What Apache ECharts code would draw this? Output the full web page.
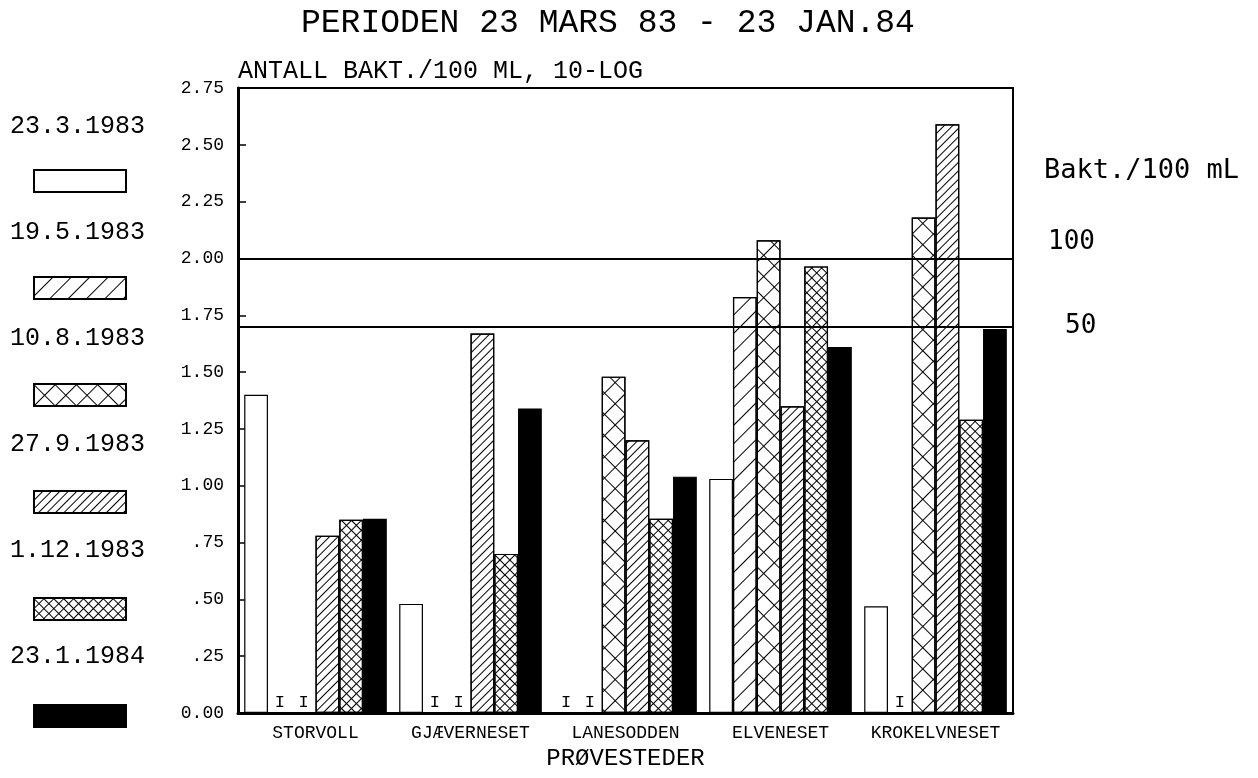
<!DOCTYPE html>
<html>
<head>
<meta charset="utf-8">
<script src="https://cdn.jsdelivr.net/npm/echarts@6/dist/echarts.min.js"></script>
<style>
  html, body { margin: 0; padding: 0; background: #fff; }
  #chart { width: 1258px; height: 778px; }
</style>
</head>
<body>
<div id="chart"></div>
<script>
// prøvesteder
const categories = ['STORVOLL', 'GJÆVERNESET', 'LANESODDEN', 'ELVENESET', 'KROKELVNESET']
// prøvedatoer (legend)
const dates = ['23.3.1983', '19.5.1983', '10.8.1983', '27.9.1983', '1.12.1983', '23.1.1984']
// log10 antall bakt./100 ml, null = ingen verdi (I)
const s19830323 = [1.40, 0.48, null, 1.03, 0.47]
const s19830519 = [null, null, null, 1.83, null]
const s19830810 = [null, null, 1.48, 2.08, 2.18]
const s19830927 = [0.78, 1.67, 1.20, 1.35, 2.59]
const s19831201 = [0.85, 0.70, 0.855, 1.965, 1.29]
const s19840123 = [0.855, 1.34, 1.04, 1.61, 1.69]
// y-akse
const yTickLabels = ['0.00', '.25', '.50', '.75', '1.00', '1.25', '1.50', '1.75', '2.00', '2.25', '2.50', '2.75']
// grenseverdier bakt./100 mL
const refValues = [2.0, 1.699]
const refLabels = ['100\n ', '50']

const plotFont = 'Liberation Mono'
const typeFont = 'DejaVu Sans Mono'

// skravur
const patterns = [
  null,
  { symbol: 'rect', symbolSize: 1, symbolKeepAspect: false, color: '#000', dashArrayX: [1, 0], dashArrayY: [1, 12], rotation: -Math.PI / 4 },
  { symbol: 'rect', symbolSize: 1, symbolKeepAspect: false, color: '#000', dashArrayX: [[1, 0], [1, 14]], dashArrayY: [1, 0, 14, 0], rotation: Math.PI / 4 },
  { symbol: 'rect', symbolSize: 1, symbolKeepAspect: false, color: '#000', dashArrayX: [1, 0], dashArrayY: [1, 5], rotation: -Math.PI / 4 },
  { symbol: 'rect', symbolSize: 1, symbolKeepAspect: false, color: '#000', dashArrayX: [[1, 0], [1, 6]], dashArrayY: [1, 0, 6, 0], rotation: Math.PI / 4 },
  null
]
const fills = ['#fff', '#fff', '#fff', '#fff', '#fff', '#000']
const seriesValues = [s19830323, s19830519, s19830810, s19830927, s19831201, s19840123]

function toItems(values) {
  return values.map(v => {
    if (v === null) {
      return {
        value: 0,
        itemStyle: { borderWidth: 0 },
        label: { show: true, position: 'top', distance: 2, formatter: 'I', fontFamily: plotFont, fontSize: 17, color: '#000' }
      }
    }
    return v
  })
}

const series = dates.map((name, i) => {
  const s = {
    name: name,
    type: 'bar',
    barGap: '0%',
    barCategoryGap: '8%',
    data: toItems(seriesValues[i]),
    itemStyle: {
      color: fills[i],
      borderColor: '#000',
      borderWidth: 1.2
    },
    emphasis: { disabled: true },
    animation: false
  }
  if (patterns[i]) s.itemStyle.decal = patterns[i]
  return s
})

// referanselinjer 100 og 50
series[0].markLine = {
  silent: true,
  symbol: 'none',
  lineStyle: { color: '#000', width: 2, type: 'solid' },
  data: refValues.map((v, i) => ({
    yAxis: v,
    label: {
      show: true,
      position: 'end',
      formatter: refLabels[i],
      distance: i === 0 ? 35 : 52,
      lineHeight: 32,
      fontFamily: typeFont,
      fontSize: 26,
      color: '#000'
    }
  }))
}

const chart = echarts.init(document.getElementById('chart'))
chart.setOption({
  backgroundColor: '#fff',
  animation: false,
  title: [
    {
      text: 'PERIODEN 23 MARS 83 - 23 JAN.84',
      left: 296,
      top: 2,
      textStyle: { fontFamily: plotFont, fontSize: 33, fontWeight: 'normal', color: '#000' }
    },
    {
      text: 'Bakt./100 mL',
      left: 1044,
      top: 157,
      padding: 0,
      textStyle: { fontFamily: typeFont, fontSize: 27, fontWeight: 'normal', color: '#000' }
    }
  ],
  legend: [
    {
      // datoer
      data: dates,
      orient: 'vertical',
      left: 5,
      top: 114,
      padding: 0,
      icon: 'none',
      itemWidth: 0,
      itemHeight: 0,
      itemGap: 81,
      selectedMode: false,
      textStyle: { fontFamily: plotFont, fontSize: 25, color: '#000' }
    },
    {
      // skravurfelt
      data: dates,
      orient: 'vertical',
      left: 33,
      top: 169,
      padding: 0,
      icon: 'rect',
      itemWidth: 92,
      itemHeight: 22,
      itemGap: 83,
      selectedMode: false,
      formatter: () => '',
      textStyle: { fontSize: 1 }
    }
  ],
  grid: {
    left: 238,
    right: 245,
    top: 88,
    bottom: 65,
    show: true,
    borderColor: '#000',
    borderWidth: 2,
    containLabel: false
  },
  xAxis: {
    type: 'category',
    data: categories,
    name: 'PRØVESTEDER',
    nameLocation: 'middle',
    nameGap: 34,
    nameTextStyle: { fontFamily: plotFont, fontSize: 24, color: '#000' },
    axisLine: { lineStyle: { color: '#000', width: 3 } },
    axisTick: { show: false },
    axisLabel: { interval: 0, fontFamily: plotFont, fontSize: 18, color: '#000', margin: 11 }
  },
  yAxis: {
    type: 'value',
    min: 0,
    max: 2.75,
    interval: 0.25,
    name: 'ANTALL BAKT./100 ML, 10-LOG',
    nameLocation: 'end',
    nameGap: 4,
    nameTextStyle: { fontFamily: plotFont, fontSize: 25, color: '#000', align: 'left' },
    axisLine: { show: true, lineStyle: { color: '#000', width: 3 } },
    axisTick: { show: true, inside: true, length: 8, lineStyle: { color: '#000', width: 1.5 } },
    splitLine: { show: false },
    axisLabel: {
      fontFamily: plotFont,
      fontSize: 18,
      color: '#000',
      margin: 14,
      formatter: v => yTickLabels[Math.round(v / 0.25)]
    }
  },
  series: series
})
</script>
</body>
</html>
